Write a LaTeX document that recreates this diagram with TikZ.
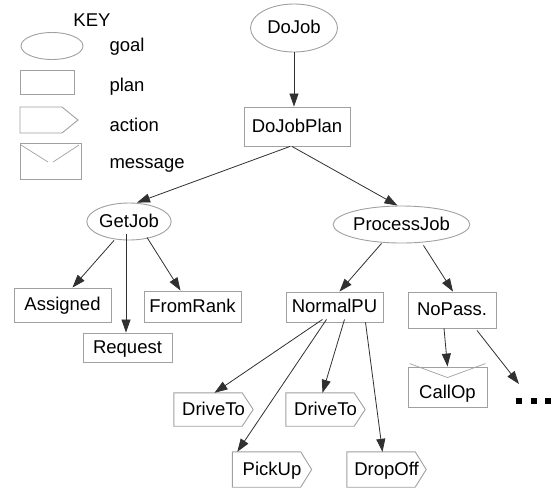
\documentclass[tikz,border=0pt]{standalone}
\usepackage{fontspec}
\setmainfont{Liberation Sans}
\usetikzlibrary{shapes.geometric,arrows.meta}
\definecolor{bord}{HTML}{A0A0A0}
\definecolor{connc}{HTML}{303030}
\begin{document}
\begin{tikzpicture}[x=1pt,y=-1pt,
 every node/.style={font=\fontsize{18.5}{20}\selectfont, text=black, text height=13.2, text depth=1.5},
 goalnode/.style={ellipse, draw=bord, line width=0.9pt, inner sep=0},
 plannode/.style={rectangle, draw=bord, line width=0.9pt, inner sep=0},
 actnode/.style={rectangle, inner sep=0, minimum width=79},
 shapeline/.style={draw=bord, line width=0.9pt},
 link/.style={draw=connc, line width=0.8pt, -{Triangle[length=13pt,width=9pt]}},
 keytext/.style={anchor=west}]
\useasboundingbox (0,0) rectangle (556,488);

% ---------- key ----------
\node (keyhead) at (92,21) {KEY};
\draw[shapeline] (52,46) ellipse (31 and 13.5);
\node[keytext] (kgoal) at (106,46) {goal};
\draw[shapeline] (20,70) rectangle (74,94);
\node[keytext] (kplan) at (106,86) {plan};
\draw[shapeline] (20,107) -- (62,107) -- (78,120) -- (62,133) -- (20,133) -- cycle;
\node[keytext] (kaction) at (106,126) {action};
\draw[shapeline] (20,143) rectangle (81,179);
\draw[shapeline, line width=0.7pt] (21,145) -- (48,162) (53,162) -- (79,145);
\node[keytext] (kmessage) at (106,163) {message};

% ---------- tree ----------
\node[goalnode, minimum width=87, minimum height=48] (dojob) at (294,28) {DoJob};
\node[plannode, minimum width=106, minimum height=39] (dojobplan) at (297,126.5) {DoJobPlan};
\node[goalnode, minimum width=79, minimum height=37] (getjob) at (129,221.5) {GetJob};
\node[goalnode, minimum width=109, minimum height=37] (processjob) at (401.5,224.5) {ProcessJob};
\node[plannode, minimum width=97, minimum height=34] (assigned) at (62.5,305) {Assigned};
\node[plannode, minimum width=89, minimum height=29] (request) at (127.5,347.5) {Request};
\node[plannode, minimum width=97, minimum height=31] (fromrank) at (192.5,306.5) {FromRank};
\node[plannode, minimum width=97, minimum height=30] (normalpu) at (334.5,307) {NormalPU};
\node[plannode, minimum width=88, minimum height=36] (nopass) at (452,310) {NoPass.};
\node[plannode, minimum width=79, minimum height=40, text height=22.5, text depth=0.5, anchor=base] (callop) at (447.5,398) {CallOp};
\draw[shapeline, line width=0.7pt] ([shift={(2,-3)}]callop.north west) -- ([yshift=-11]callop.north) -- ([shift={(-2,-3)}]callop.north east);

\node[actnode, minimum height=33] (drive1) at (213.5,409.5) {DriveTo};
\node[actnode, minimum height=33] (drive2) at (325.5,409.5) {DriveTo};
\node[actnode, minimum height=35] (pickup) at (272,469.5) {PickUp};
\node[actnode, minimum height=35] (dropoff) at (386.5,469.5) {DropOff};
\foreach \n in {drive1,drive2,pickup,dropoff}
  \draw[shapeline] (\n.north west) -- ([xshift=-11]\n.north east) -- (\n.east) -- ([xshift=-11]\n.south east) -- (\n.south west) -- cycle;

\coordinate (more) at (519,384);
\foreach \x in {516,530.5,545}
  \fill[black] (\x,398) rectangle ++(6,6);

% ---------- connectors ----------
\draw[link] (dojob.south) -- (dojob.south |- dojobplan.north);
\draw[link] ([xshift=-7]dojobplan.south) -- ([xshift=8]getjob.north);
\draw[link] ([xshift=-5]dojobplan.south) -- ([xshift=-4]processjob.north);
\draw[link] ([xshift=-15]getjob.south) -- ([xshift=10]assigned.north);
\draw[link] ([shift={(-3,-6)}]getjob.south) -- ([xshift=-1.5]request.north);
\draw[link] ([shift={(18,-3)}]getjob.south) -- ([xshift=-12]fromrank.north);
\draw[link] ([xshift=-20]processjob.south) -- ([xshift=5]normalpu.north);
\draw[link] ([shift={(22,2)}]processjob.south) -- ([xshift=1]nopass.north);
\draw[link] ([xshift=-8]nopass.south) -- (callop.north);
\draw[link] ([shift={(25,2)}]nopass.south) -- (more);
\draw[link] ([shift={(-12,-3)}]normalpu.south) -- ([xshift=1]drive1.north);
\draw[link] ([shift={(-8,-3)}]normalpu.south) -- ([xshift=5]pickup.north west);
\draw[link] ([shift={(10,-3)}]normalpu.south) -- ([xshift=-3]drive2.north);
\draw[link] ([xshift=31]normalpu.south) -- ([xshift=-4]dropoff.north);
\end{tikzpicture}
\end{document}
